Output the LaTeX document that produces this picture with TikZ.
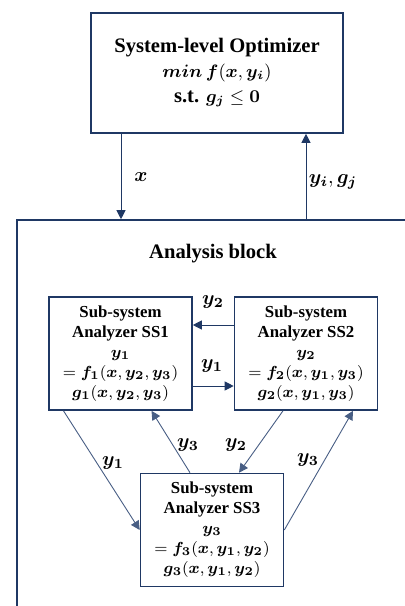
\documentclass[tikz,border=0pt]{standalone}
\usepackage{amsmath}
\usepackage{fontspec}
\setmainfont{Liberation Serif}
\usetikzlibrary{
  arrows.meta,
  positioning,
  calc
}
\definecolor{navy}{RGB}{31,56,100}
\definecolor{steel}{RGB}{72,94,132}
\newcommand{\bv}[1]{\boldsymbol{#1}}

\begin{document}
\begin{tikzpicture}[x=0.5pt, y=-0.5pt,
  optbox/.style={draw=navy, line width=0.8pt, align=center, inner sep=0pt,
    minimum width=126pt, minimum height=60pt, font=\fontsize{10.3}{12.5}\selectfont\bfseries},
  ssbox/.style={draw=navy, line width=0.8pt, align=center, inner sep=0pt,
    minimum width=71.5pt, minimum height=56.5pt, font=\fontsize{8.4}{10}\selectfont\bfseries},
  flow/.style={draw=navy, line width=0.5pt, -{Triangle[length=4.5pt,width=4.5pt]}},
  link/.style={draw=steel, line width=0.45pt, -{Triangle[length=4.5pt,width=4.5pt]}},
  lbl/.style={font=\fontsize{10}{10}\selectfont}]
  \useasboundingbox (0,0) rectangle (405,606);
  % analysis frame runs off the page
  \begin{scope}
    \clip (0,0) rectangle (405,606);
    \node[draw=navy, line width=0.8pt, minimum width=196.5pt, minimum height=200pt] (ana) at (213.5,420) {};
  \end{scope}
  \node[font=\fontsize{10.3}{12}\selectfont\bfseries] (anatitle) at (213,254) {Analysis block};
  \node[optbox] (opt) at (217,73) {System-level Optimizer\\ {\fontsize{9.2}{12.5}\selectfont$\bv{min\,f}(\bv{x},\bv{y_i})$}\\ s.t. {\fontsize{9.2}{12.5}\selectfont$\bv{g_j}\leq\bv{0}$}};
  % sub-system analyzers
  \node[ssbox] (ss1) at (120.5,353.5) {Sub-system\\ Analyzer SS1\\ $\bv{y_1}$\\ $=\bv{f_1}(\bv{x},\bv{y_2},\bv{y_3})$\\ $\bv{g_1}(\bv{x},\bv{y_2},\bv{y_3})$};
  \node[ssbox] (ss2) at (306,353.5) {Sub-system\\ Analyzer SS2\\ $\bv{y_2}$\\ $=\bv{f_2}(\bv{x},\bv{y_1},\bv{y_3})$\\ $\bv{g_2}(\bv{x},\bv{y_1},\bv{y_3})$};
  \node[ssbox] (ss3) at (212,530) {Sub-system\\ Analyzer SS3\\ $\bv{y_3}$\\ $=\bv{f_3}(\bv{x},\bv{y_1},\bv{y_2})$\\ $\bv{g_3}(\bv{x},\bv{y_1},\bv{y_2})$};
  % optimizer <-> analysis
  \coordinate (xdown) at (121,0);
  \coordinate (yup) at (306,0);
  \draw[flow] (opt.south -| xdown) -- (ana.north -| xdown);
  \draw[flow] (ana.north -| yup) -- (opt.south -| yup);
  \node[lbl] (xlbl) at (141,177) {$\bv{x}$};
  \node[lbl] (ylbl) at (333,182) {$\bv{y_i},\bv{g_j}$};
  % SS1 <-> SS2
  \coordinate (toprow) at (0,325);
  \coordinate (botrow) at (0,386);
  \draw[flow] (ss2.west |- toprow) -- (ss1.east |- toprow);
  \draw[flow] (ss1.east |- botrow) -- (ss2.west |- botrow);
  \node[lbl] (y2a) at (213,302) {$\bv{y_2}$};
  \node[lbl] (y1a) at (212,366) {$\bv{y_1}$};
  % links with SS3
  \draw[link] ($(ss1.south)+(-57,0)$) -- (ss3.west);
  \draw[link] ($(ss3.north)+(-22,0)$) -- ($(ss1.south)+(31,0)$);
  \draw[link] ($(ss2.south)+(-23,0)$) -- ($(ss3.north)+(27,0)$);
  \draw[link] (ss3.east) -- ($(ss2.south)+(47,0)$);
  \node[lbl] (y1b) at (113,463) {$\bv{y_1}$};
  \node[lbl] (y3a) at (188,445) {$\bv{y_3}$};
  \node[lbl] (y2b) at (236,445) {$\bv{y_2}$};
  \node[lbl] (y3b) at (308,460) {$\bv{y_3}$};
\end{tikzpicture}
\end{document}
